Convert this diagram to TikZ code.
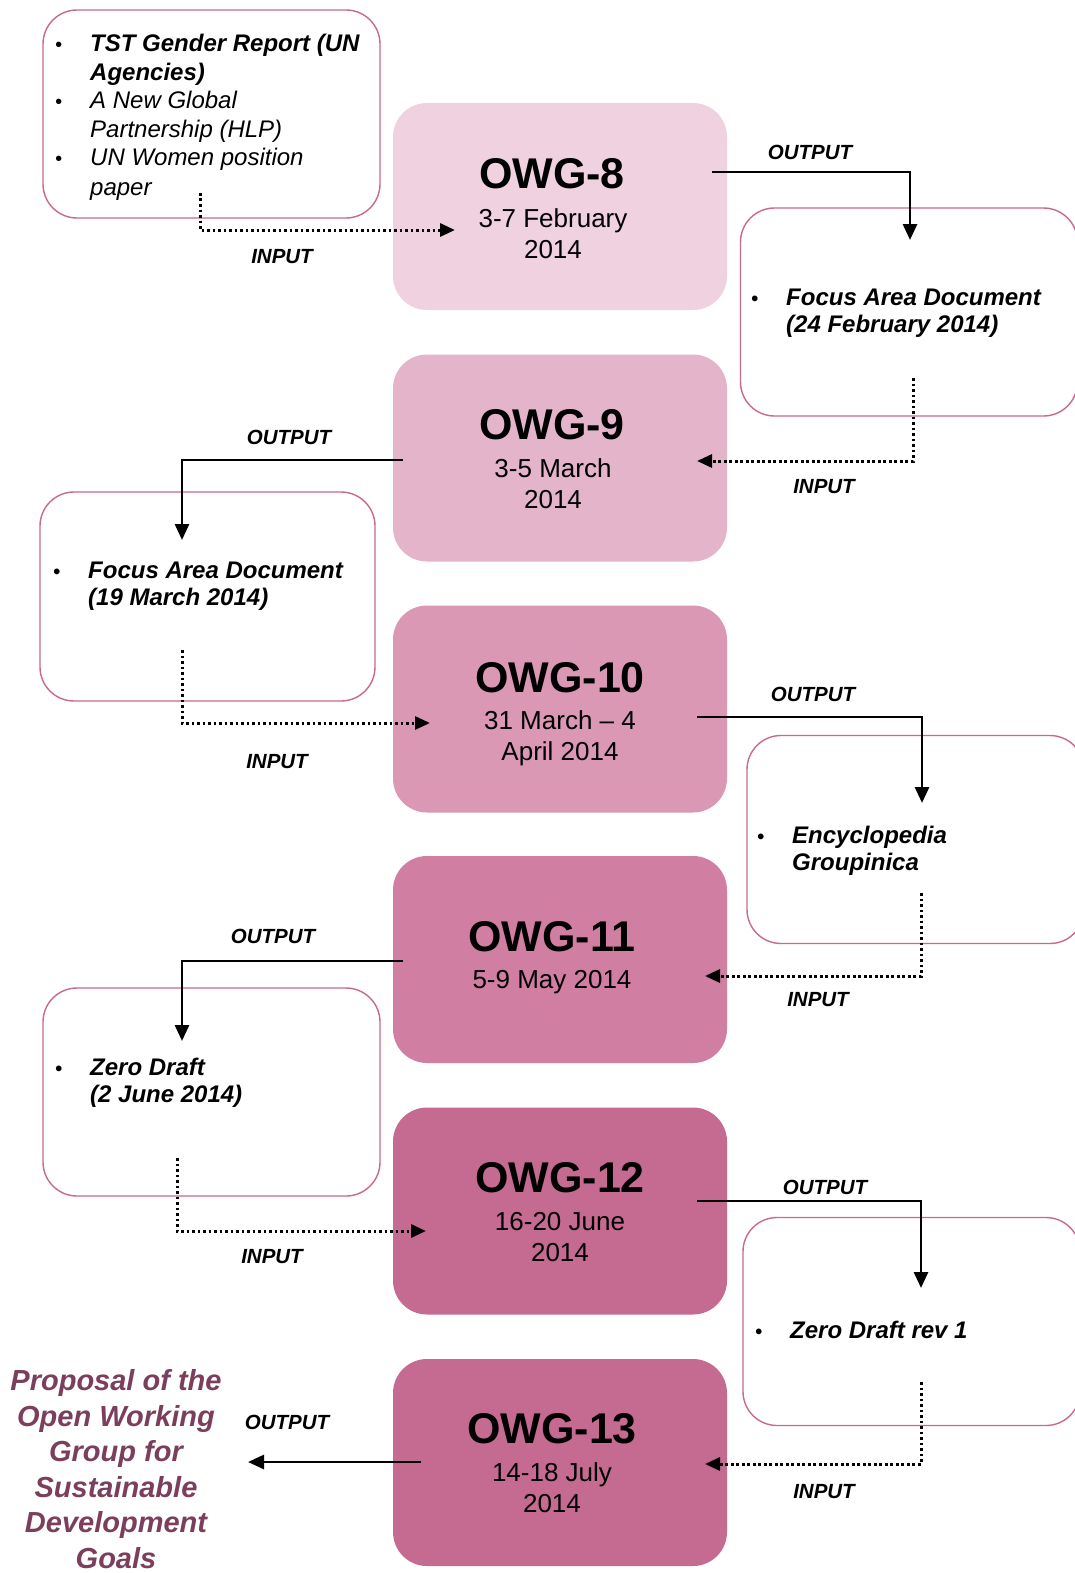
\documentclass[tikz,border=0pt]{standalone}
\usepackage{fontspec}
\setmainfont{Liberation Sans}
\usetikzlibrary{arrows.meta,calc}
\definecolor{cA}{HTML}{EFD1E0}
\definecolor{cB}{HTML}{E4B4CA}
\definecolor{cC}{HTML}{DA98B5}
\definecolor{cD}{HTML}{D07FA2}
\definecolor{cE}{HTML}{C56A90}
\definecolor{docline}{HTML}{C9698F}
\definecolor{goalcol}{HTML}{7B3F5D}
\newcommand{\bul}{\makebox[35pt][l]{\fontsize{20}{20}\selectfont\textbullet}}
\newcommand{\ind}{\hspace*{35pt}}
\begin{document}
\begin{tikzpicture}[x=1pt,y=-1pt,
  owg/.style={rounded corners=34pt, minimum width=334pt, minimum height=207pt, inner sep=0pt, draw=none},
  docbox/.style={draw=docline, line width=1.4pt, rounded corners=34pt, minimum width=337pt, minimum height=208pt, inner sep=0pt},
  title/.style={font=\fontsize{43}{48}\selectfont\bfseries, inner sep=0pt, anchor=base},
  datetxt/.style={font=\fontsize{26}{31}\selectfont, align=center, inner sep=0pt, anchor=base},
  doctext/.style={font=\fontsize{24}{27.5}\selectfont\bfseries\itshape, align=left, inner sep=0pt, anchor=base west},
  lab/.style={font=\fontsize{20.5}{24}\selectfont\bfseries\itshape, inner sep=0pt},
  outarr/.style={line width=2.9pt, -{Triangle[length=16pt,width=14pt]}},
  inarr/.style={line width=3pt, dash pattern=on 2.6pt off 2.9pt, -{Triangle[length=15pt,width=13pt]}}
]
\useasboundingbox (0,0) rectangle (1075,1573);
\clip (0,0) rectangle (1075,1573);
\fill[white] (0,0) rectangle (1075,1573);

% OWG boxes
\node[owg, fill=cA] (o8) at (560,206.5) {};
\node[owg, fill=cB] (o9) at (560,458) {};
\node[owg, fill=cC] (o10) at (560,709) {};
\node[owg, fill=cD] (o11) at (560,959.5) {};
\node[owg, fill=cE] (o12) at (560,1211) {};
\node[owg, fill=cE] (o13) at (560,1462.5) {};

\node[title] (t8) at (552,188.4) {OWG-8};
\node[datetxt] (dt8) at (553,258.3) {3-7 February\\2014};
\node[title] (t9) at (552,439.4) {OWG-9};
\node[datetxt] (dt9) at (553,508.3) {3-5 March\\2014};
\node[title] (t10) at (560,692.4) {OWG-10};
\node[datetxt] (dt10) at (560,760.3) {31 March -- 4\\April 2014};
\node[title] (t11) at (552,951.4) {OWG-11};
\node[datetxt] (dt11) at (552,988.3) {5-9 May 2014};
\node[title] (t12) at (560,1192.4) {OWG-12};
\node[datetxt] (dt12) at (560,1261.3) {16-20 June\\2014};
\node[title] (t13) at (552,1443.4) {OWG-13};
\node[datetxt] (dt13) at (552,1512.3) {14-18 July\\2014};

% document boxes
\node[docbox] (d1) at (211.5,114) {};
\node[docbox] (d2) at (909,312) {};
\node[docbox, minimum width=335pt, minimum height=209pt] (d3) at (207.5,596.5) {};
\node[docbox] (d4) at (915.5,839.5) {};
\node[docbox] (d5) at (211.5,1092) {};
\node[docbox] (d6) at (911.5,1321.5) {};

\node[doctext, font=\fontsize{24}{28.5}\selectfont\itshape] (x1) at (55,196) {\bul\textbf{TST Gender Report (UN}\\\ind\textbf{Agencies)}\\\bul A New Global\\\ind Partnership (HLP)\\\bul UN Women position\\[1.5pt]\ind paper};
\node[doctext] (x2) at (751,332.5) {\bul Focus Area Document\\\ind(24 February 2014)};
\node[doctext] (x3) at (53,605.5) {\bul Focus Area Document\\\ind(19 March 2014)};
\node[doctext] (x4) at (757,870.5) {\bul Encyclopedia\\\ind Groupinica};
\node[doctext] (x5) at (55,1102.5) {\bul Zero Draft\\\ind(2 June 2014)};
\node[doctext] (x6) at (755,1338) {\bul Zero Draft rev 1};

% final goal text
\node[font=\fontsize{29}{35.5}\selectfont\bfseries\itshape, text=goalcol, align=center, inner sep=0pt, anchor=base] (goal) at (116,1568) {Proposal of the\\Open Working\\Group for\\Sustainable\\Development\\Goals};

% connector coordinates
\coordinate (i1a) at (200,193); \coordinate (i1b) at (455,230);
\coordinate (p1a) at (712,172); \coordinate (p1b) at (910,240);
\coordinate (i2a) at (913,378); \coordinate (i2b) at (697,461);
\coordinate (p2a) at (403,460); \coordinate (p2b) at (182,540);
\coordinate (i3a) at (182,650); \coordinate (i3b) at (430,723);
\coordinate (p3a) at (697,717); \coordinate (p3b) at (922,803);
\coordinate (i4a) at (921,893); \coordinate (i4b) at (705,976);
\coordinate (p4a) at (403,961); \coordinate (p4b) at (182,1041);
\coordinate (i5a) at (177,1158); \coordinate (i5b) at (426,1231);
\coordinate (p5a) at (697,1201); \coordinate (p5b) at (921,1288);
\coordinate (i6a) at (921,1382); \coordinate (i6b) at (705,1464);
\coordinate (p6a) at (421,1462); \coordinate (p6b) at (248,1462);

\draw[inarr] (i1a) |- (i1b);
\draw[outarr] (p1a) -| (p1b);
\draw[inarr] (i2a) |- (i2b);
\draw[outarr] (p2a) -| (p2b);
\draw[inarr] (i3a) |- (i3b);
\draw[outarr] (p3a) -| (p3b);
\draw[inarr] (i4a) |- (i4b);
\draw[outarr] (p4a) -| (p4b);
\draw[inarr] (i5a) |- (i5b);
\draw[outarr] (p5a) -| (p5b);
\draw[inarr] (i6a) |- (i6b);
\draw[outarr] (p6a) -- (p6b);

% labels
\node[lab] (l1) at (282,257) {INPUT};
\node[lab] (l2) at (810,152) {OUTPUT};
\node[lab] (l3) at (824,487) {INPUT};
\node[lab] (l4) at (289,437) {OUTPUT};
\node[lab] (l5) at (277,762) {INPUT};
\node[lab] (l6) at (813,694) {OUTPUT};
\node[lab] (l7) at (818,1000) {INPUT};
\node[lab] (l8) at (273,936) {OUTPUT};
\node[lab] (l9) at (272,1257) {INPUT};
\node[lab] (l10) at (825,1187) {OUTPUT};
\node[lab] (l11) at (824,1492) {INPUT};
\node[lab] (l12) at (287,1422) {OUTPUT};
\end{tikzpicture}
\end{document}
